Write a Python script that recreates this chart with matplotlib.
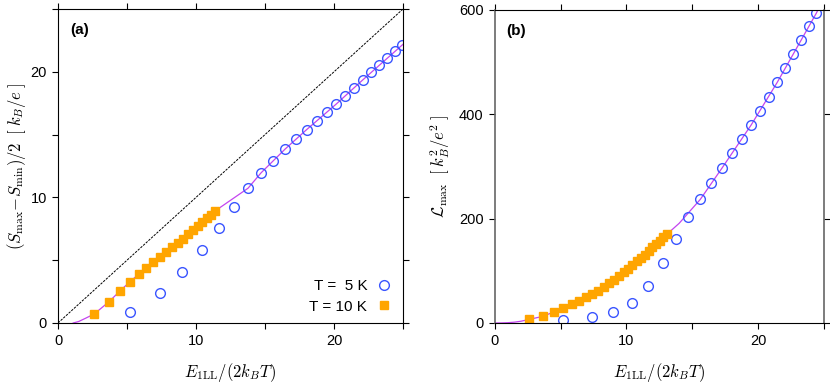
import matplotlib.pyplot as plt

plt.rcParams["font.family"] = ["Liberation Sans", "DejaVu Sans"]
plt.rcParams["mathtext.fontset"] = "cm"

# -----------------------------
# Data
# -----------------------------
x_5K = [5.21, 7.37, 9.01, 10.40, 11.64, 12.75, 13.77, 14.71, 15.61, 16.45,
        17.26, 18.02, 18.76, 19.47, 20.15, 20.81, 21.45, 22.07, 22.68, 23.27,
        23.85, 24.41, 24.96]
S_5K = [0.88, 2.39, 4.03, 5.81, 7.59, 9.27, 10.73, 11.95, 12.93, 13.84,
        14.63, 15.40, 16.10, 16.79, 17.42, 18.06, 18.70, 19.34, 19.95, 20.53,
        21.09, 21.67, 22.15]
L_5K = [5.8, 11.5, 21.1, 39.0, 70.9, 114.4, 161.0, 202.6, 237.0, 268.4,
        297.1, 325.2, 352.1, 379.6, 406.4, 433.2, 461.3, 488.2, 515.0, 542.5,
        569.3, 593.6]

x_10K = [2.63, 3.70, 4.52, 5.22, 5.84, 6.40, 6.92, 7.39, 7.84, 8.26,
         8.67, 9.05, 9.42, 9.78, 10.12, 10.45, 10.77, 11.08, 11.38, 11.68,
         11.97, 12.25, 12.53, 12.80, 13.07]
S_10K = [0.72, 1.70, 2.58, 3.29, 3.88, 4.41, 4.86, 5.26, 5.66, 6.03,
         6.40, 6.72, 7.07, 7.41, 7.73, 8.05, 8.34, 8.63, 8.92]
L_10K = [7, 13, 21, 29, 36, 42, 49, 55, 62, 69,
         76, 83, 90, 97, 104, 111, 118, 124, 131, 138,
         145, 151, 158, 164, 170]

# theory curves (magenta)
xa_curve = [1.1, 1.5, 2.0, 2.63, 3.70, 4.52, 5.22, 6.40, 7.39, 9.05,
            10.45, 11.38, 13.77, 14.71, 16.45, 18.02, 20.15, 22.07, 24.96, 25.0]
Sa_curve = [0.0, 0.12, 0.38, 0.72, 1.70, 2.58, 3.29, 4.41, 5.26, 6.72,
            8.05, 8.92, 10.73, 11.95, 13.84, 15.40, 17.42, 19.34, 22.15, 22.19]
xb_curve = [0.0, 0.5, 1.0, 1.5, 2.0, 2.63, 3.70, 5.22, 6.92, 8.26,
            9.78, 11.08, 12.25, 13.07, 14.0, 15.61, 17.26, 19.47, 21.45, 23.27,
            24.41, 24.7]
Lb_curve = [0.0, 0.1, 0.6, 1.6, 3.4, 7, 13, 29, 49, 69,
            97, 124, 151, 170, 191, 237.0, 297.1, 379.6, 461.3, 542.5,
            593.6, 608]

diag = [0, 25]

blue = "#3a55ff"
orange = "#ffa500"
magenta = "#c444f0"

# -----------------------------
# Plot
# -----------------------------
fig = plt.figure(figsize=(8.3, 3.86), dpi=100)
ax1 = fig.add_axes([58 / 830, 63 / 386, 345 / 830, 314 / 386])
ax2 = fig.add_axes([494.7 / 830, 63 / 386, 329.3 / 830, 313 / 386])

circ = dict(ms=7, mfc="none", mec=blue, mew=1.0)
sq = dict(ms=5.8, color=orange, mec=orange)

# (a)
ax1.plot(diag, diag, color="black", lw=0.7, ls=(0, (2.5, 1.2)))
ax1.plot(xa_curve, Sa_curve, color=magenta, lw=0.9)
ax1.plot(x_5K, S_5K, "o", label="T =  5 K", **circ)
ax1.plot(x_10K[:len(S_10K)], S_10K, "s", label="T = 10 K", **sq)
ax1.set_xlim(0, 25)
ax1.set_ylim(0, 25)
ax1.set_xticks([0, 5, 10, 15, 20, 25])
ax1.set_xticklabels(["0", "", "10", "", "20", ""])
ax1.set_yticks([0, 5, 10, 15, 20, 25])
ax1.set_yticklabels(["0", "", "10", "", "20", ""])
ax1.set_xlabel(r"$E_{\rm 1LL}/(2k_BT)$", fontsize=12, labelpad=9)
fig.text(17 / 830, 1 - 166 / 386,
         r"$(S_{\rm max}\!-\!S_{\rm min})/2\;\;[\;k_B/e\;]$", fontsize=12,
         rotation=90, ha="center", va="center")
ax1.text(0.035, 0.955, "(a)", transform=ax1.transAxes, fontsize=11,
         fontweight="bold", va="top")
ax1.legend(loc="lower right", markerfirst=False, frameon=False, fontsize=11,
           handlelength=1.0, handletextpad=0.6, borderaxespad=0.0,
           labelspacing=0.45, bbox_to_anchor=(0.985, 0.01))

# (b)
ax2.plot(xb_curve, Lb_curve, color=magenta, lw=0.9)
ax2.plot(x_5K[:len(L_5K)], L_5K, "o", **circ)
ax2.plot(x_10K, L_10K, "s", **sq)
ax2.set_xlim(0, 25)
ax2.set_ylim(0, 600)
ax2.set_xticks([0, 5, 10, 15, 20, 25])
ax2.set_xticklabels(["0", "", "10", "", "20", ""])
ax2.set_yticks([0, 200, 400, 600])
ax2.set_xlabel(r"$E_{\rm 1LL}/(2k_BT)$", fontsize=12, labelpad=9)
fig.text(440 / 830, 1 - 166 / 386,
         r"$\mathcal{L}_{\rm max}\;\;[\;k_B^2/e^2\;]$", fontsize=12,
         rotation=90, ha="center", va="center")
ax2.text(0.035, 0.955, "(b)", transform=ax2.transAxes, fontsize=11,
         fontweight="bold", va="top")
for side in ["left", "right"]:
    ax2.spines[side].set_color("#666666")
    ax2.spines[side].set_linewidth(1.2)

for ax in (ax1, ax2):
    ax.tick_params(direction="out", length=4, width=0.8, labelsize=10.5,
                   top=True, right=True, pad=4)

fig.savefig("out.png", dpi=100)
